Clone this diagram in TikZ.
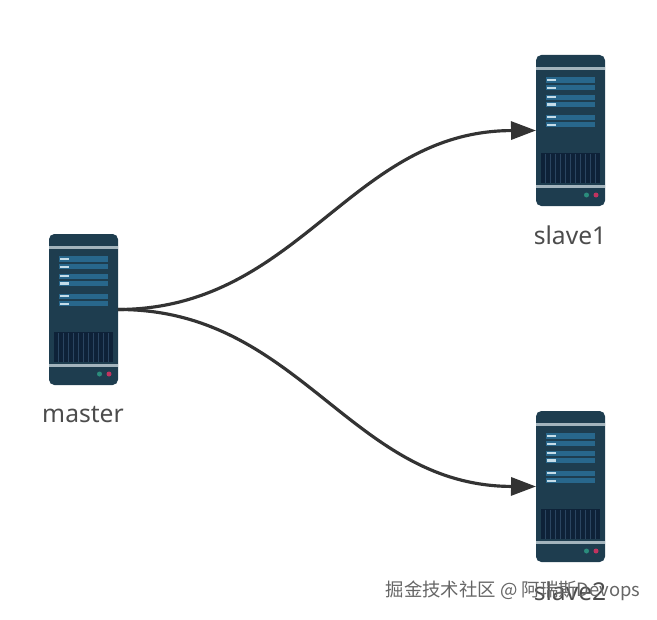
\documentclass[tikz,border=0pt]{standalone}
\usepackage{xcolor}
\usepackage{fontspec}
\setmainfont{Noto Sans}
\newfontfamily\cjk{Noto Sans CJK SC}
\usetikzlibrary{arrows.meta}
\definecolor{bodyblue}{HTML}{1E3D4F}
\definecolor{bandgrey}{HTML}{A3B4BD}
\definecolor{ventblue}{HTML}{0E2238}
\definecolor{ventline}{HTML}{2A4560}
\definecolor{slotblue}{HTML}{28678C}
\definecolor{tagwhite}{HTML}{C4DCE8}
\definecolor{ledgreen}{HTML}{2B8C7C}
\definecolor{ledpink}{HTML}{C2335F}
\definecolor{linkgrey}{HTML}{333333}
\tikzset{
	serverbox/.style={minimum width=2.07cm, minimum height=4.53cm, inner sep=0pt, outer sep=0pt},
	serverlabel/.style={font=\fontsize{21}{25}\selectfont, text=black!70},
	link/.style={-{Triangle[length=0.75cm, width=0.54cm]}, line width=2.7pt, draw=linkgrey},
	pics/server/.style={code={
		\fill[bodyblue, rounded corners=0.16cm] (-34.5,-75.5) rectangle (34.5,75.5);
		\fill[bandgrey] (-34.5,-64) rectangle (34.5,-60.7);
		\fill[bandgrey] (-34.5,54) rectangle (34.5,57.5);
		\fill[ventblue] (-29.5,22.5) rectangle (29,52.5);
		\foreach \vx in {-25,-20,...,25}
			\draw[ventline, line width=0.5pt] (\vx,23) -- (\vx,52);
		\foreach \ry in {-50.5,-42.7,-33.2,-26,-13.2,-5.7}{
			\fill[slotblue] (-24.8,\ry-2.6) rectangle (24.5,\ry+2.6);
			\fill[tagwhite] (-24,\ry-1.1) rectangle (-14.5,\ry+1.1);
		}
		\fill[ledgreen] (16,64.5) circle (2.5);
		\fill[ledpink] (25.5,64.5) circle (2.5);
	}},
}
\begin{document}
\begin{tikzpicture}[x=0.03cm, y=-0.03cm]
	\useasboundingbox (0,0) rectangle (657,619);
	\node[serverbox] (master) at (83.5,309.5) {};
	\node[serverbox] (slave1) at (570.5,130.5) {};
	\node[serverbox] (slave2) at (570.5,486.5) {};
	\pic at (master) {server};
	\pic at (slave1) {server};
	\pic at (slave2) {server};
	\draw[link] (master.east) .. controls (300,309) and (350,131) .. (slave1.west);
	\draw[link] (master.east) .. controls (300,309) and (350,486) .. (slave2.west);
	\node[serverlabel] (masterlabel) at (83,415) {master};
	\node[serverlabel] (slave1label) at (570,235) {slave1};
	\node[serverlabel] (slave2label) at (570,591) {slave2};
	\node[font=\cjk\fontsize{15.7}{18}\selectfont, text=black!60] (mark) at (513,591) {掘金技术社区 @ 阿瑞斯Devops};
\end{tikzpicture}
\end{document}
